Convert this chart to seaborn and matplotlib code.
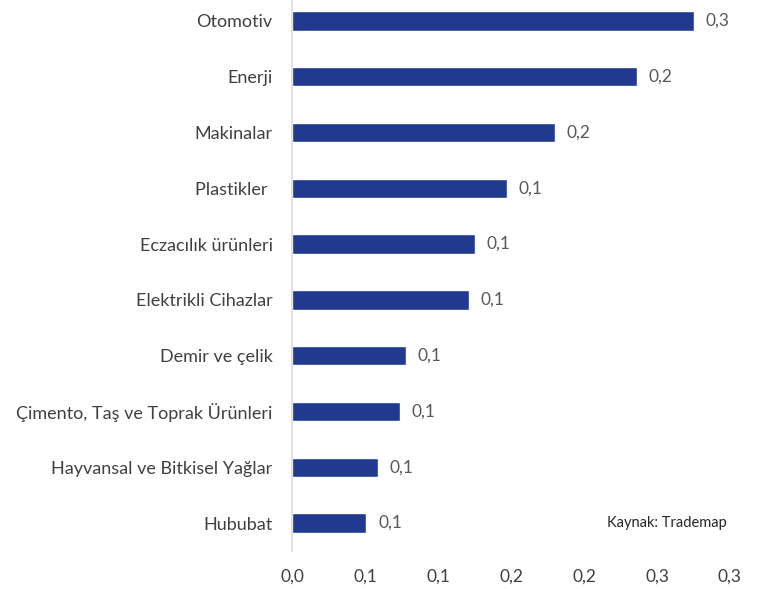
import matplotlib
matplotlib.use("Agg")
import matplotlib.pyplot as plt
import seaborn as sns
import pandas as pd
from decimal import Decimal, ROUND_HALF_UP
from matplotlib.ticker import FuncFormatter

categories = ["Otomotiv", "Enerji", "Makinalar", "Plastikler ", "Eczacılık ürünleri",
              "Elektrikli Cihazlar", "Demir ve çelik", "Çimento, Taş ve Toprak Ürünleri",
              "Hayvansal ve Bitkisel Yağlar", "Hububat"]
values = [0.275, 0.236, 0.180, 0.147, 0.125, 0.121, 0.078, 0.074, 0.059, 0.051]
xticks = [0.0, 0.05, 0.10, 0.15, 0.20, 0.25, 0.30]
source_text = "Kaynak: Trademap"


def fmt(v):
    d = Decimal(str(round(v, 6))).quantize(Decimal("0.1"), rounding=ROUND_HALF_UP)
    return str(d).replace(".", ",")


sns.set_theme(style="white")
plt.rcParams['font.family'] = ['Lato', 'DejaVu Sans']

df = pd.DataFrame({"cat": categories, "val": values})

fig = plt.figure(figsize=(7.65, 5.89), dpi=100)
ax = fig.add_axes([292/765, (589-551)/589, 438/765, 558/589])
sns.barplot(data=df, x="val", y="cat", color="#213A8F", width=0.35, ax=ax, saturation=1)

ax.set_xlim(0, 0.30)
ax.set_ylim(9.5, -0.5)
ax.set_xticks(xticks)
ax.xaxis.set_major_formatter(FuncFormatter(lambda v, p: fmt(v)))
ax.set_xlabel("")
ax.set_ylabel("")
for s in ["top", "right", "bottom"]:
    ax.spines[s].set_visible(False)
ax.spines["left"].set_color("#D9D9D9")
ax.spines["left"].set_linewidth(1.2)
ax.tick_params(axis="x", length=0, pad=13, labelsize=12.5, labelcolor="#404040")
ax.tick_params(axis="y", length=0, pad=14, labelsize=13, labelcolor="#404040")

for i, v in enumerate(values):
    ax.text(v + 0.008, i, fmt(v), va="center", ha="left",
            fontsize=12.5, color="#595959")

ax.text(0.298, 9, source_text, ha="right", va="center", fontsize=10.5, color="#262626")

fig.savefig("out.png", dpi=100)
